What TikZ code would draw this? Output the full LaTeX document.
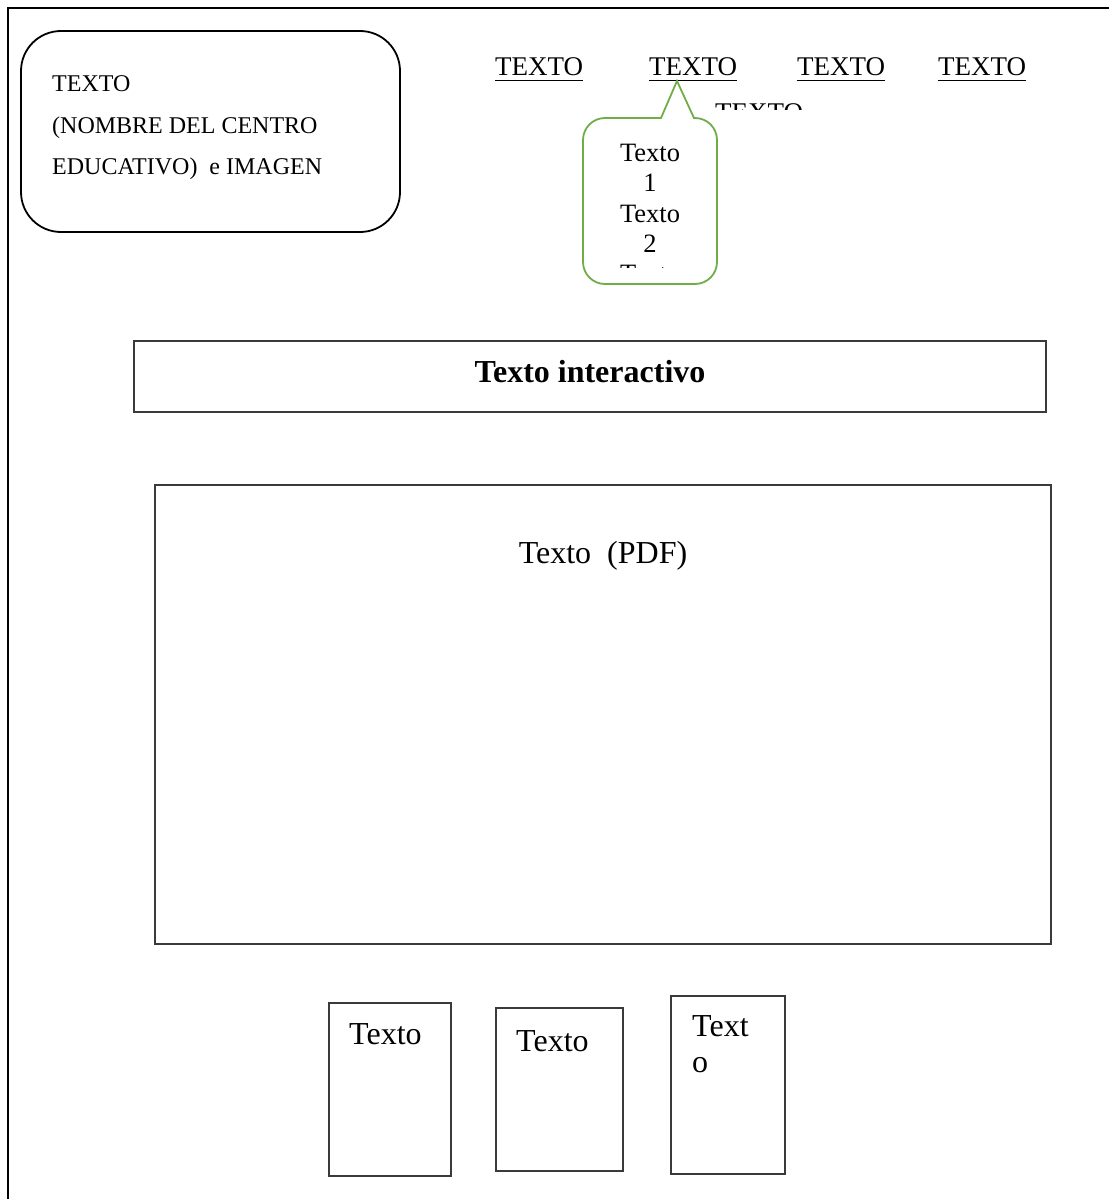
\documentclass[tikz,border=0pt]{standalone}
\usepackage{fontspec}
\setmainfont{Liberation Serif}
\definecolor{bubblegreen}{HTML}{70AD47}
\definecolor{boxline}{HTML}{3A3A3A}
\newcommand{\fs}[1]{\fontsize{#1}{#1}\selectfont}
\begin{document}
\begin{tikzpicture}[x=1pt,y=-1pt,
  txt/.style={inner sep=0pt,anchor=base west},
  ctxt/.style={inner sep=0pt,anchor=base},
  plainbox/.style={draw=boxline,line width=1.3pt},
  tab/.style={inner sep=0pt,anchor=base,font=\fs{27}}]
\useasboundingbox (0,0) rectangle (1109,1199);
% page frame (left and top edges)
\draw[line width=2pt] (8,1199) -- (8,8) -- (1109,8);

% header block
\draw[line width=1.8pt,rounded corners=40pt] (21,31) rectangle (400,232);
\node[txt,font=\fs{24}] (h1) at (52,92) {TEXTO};
\node[txt,font=\fs{24}] (h2) at (52,133) {(NOMBRE DEL CENTRO};
\node[txt,font=\fs{24}] (h3) at (52,174) {EDUCATIVO)\ \ e IMAGEN};

% menu tabs
\node[tab] (t1) at (539,76) {TEXTO};
\node[tab] (t2) at (693,76) {TEXTO};
\node[tab] (t3) at (841,76) {TEXTO};
\node[tab] (t4) at (982,76) {TEXTO};
\foreach \t in {t1,t2,t3,t4}
  \draw[line width=1.3pt] ([yshift=-4.5pt]\t.base west) -- ([yshift=-4.5pt]\t.base east);
\begin{scope}
  \clip (700,95) rectangle (830,109);
  \node[tab] (t5) at (759,121) {TEXTO};
\end{scope}

% drop-down bubble
\coordinate (tip) at (677,81);
\draw[bubblegreen,line width=1.8pt,fill=white,line join=miter]
  (661,118) -- (tip) -- (694,118)
  [rounded corners=22pt] -- (717,118) -- (717,284) -- (583,284) -- (583,118)
  [sharp corners] -- cycle;
\begin{scope}
  \clip (585,120) rectangle (715,267);
  \node[ctxt,font=\fs{26.5}] (b1) at (650,161) {Texto};
  \node[ctxt,font=\fs{26.5}] (b2) at (650,191) {1};
  \node[ctxt,font=\fs{26.5}] (b3) at (650,222) {Texto};
  \node[ctxt,font=\fs{26.5}] (b4) at (650,252) {2};
  \node[ctxt,font=\fs{26.5}] (b5) at (650,282) {Texto};
\end{scope}

% title bar
\draw[plainbox] (134,341) rectangle (1046,412);
\node[ctxt,font=\fs{32}\bfseries] (title) at (590,382) {Texto interactivo};

% main content area
\draw[plainbox] (155,485) rectangle (1051,944);
\node[ctxt,font=\fs{32}] (pdf) at (603,563) {Texto\ \ (PDF)};

% bottom cards
\draw[plainbox] (329,1003) rectangle (451,1176);
\node[txt,font=\fs{32}] (c1) at (349,1044) {Texto};
\draw[plainbox] (496,1008) rectangle (623,1171);
\node[txt,font=\fs{32}] (c2) at (516,1051) {Texto};
\draw[plainbox] (671,996) rectangle (785,1174);
\node[txt,font=\fs{32}] (c3a) at (692,1036) {Text};
\node[txt,font=\fs{32}] (c3b) at (692,1072) {o};
\end{tikzpicture}
\end{document}
